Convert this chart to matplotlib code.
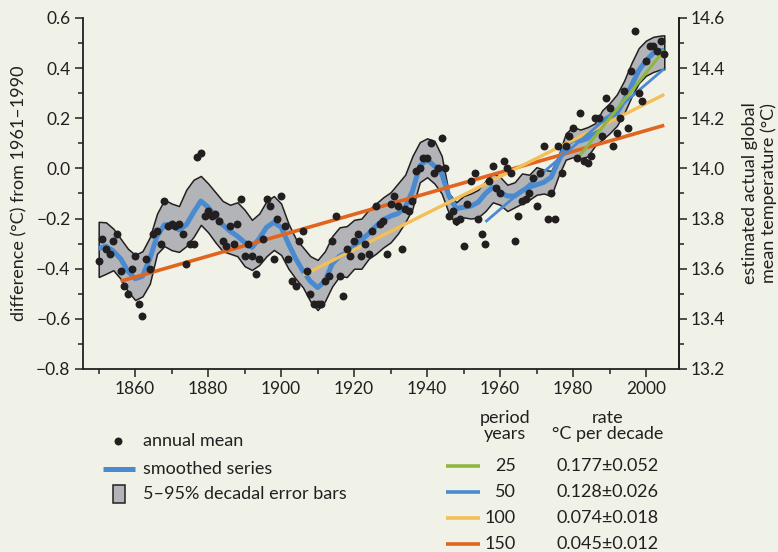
import matplotlib
matplotlib.use('Agg')
import matplotlib.pyplot as plt
from matplotlib.ticker import MultipleLocator, FuncFormatter
from matplotlib.patches import Rectangle

plt.rcParams['font.family'] = ['Lato', 'DejaVu Sans']

# annual means, 1850-2005 (difference from 1961-1990, degC)
years = list(range(1850, 2006))
annual = [
    -0.37, -0.28, -0.32, -0.34, -0.29, -0.26, -0.41, -0.47, -0.50, -0.40,   # 1850s
    -0.35, -0.54, -0.59, -0.36, -0.40, -0.26, -0.25, -0.30, -0.13, -0.23,   # 1860s
    -0.22, -0.23, -0.22, -0.26, -0.38, -0.30, -0.30, 0.045, 0.06, -0.19,    # 1870s
    -0.17, -0.19, -0.18, -0.21, -0.29, -0.31, -0.23, -0.30, -0.22, -0.12,   # 1880s
    -0.35, -0.30, -0.35, -0.42, -0.36, -0.28, -0.12, -0.15, -0.36, -0.20,   # 1890s
    -0.11, -0.23, -0.36, -0.45, -0.47, -0.29, -0.25, -0.41, -0.50, -0.54,   # 1900s
    -0.54, -0.54, -0.45, -0.43, -0.29, -0.19, -0.43, -0.51, -0.32, -0.35,   # 1910s
    -0.29, -0.26, -0.35, -0.30, -0.34, -0.25, -0.15, -0.22, -0.21, -0.34,   # 1920s
    -0.14, -0.11, -0.15, -0.32, -0.16, -0.17, -0.13, -0.01, 0.00, 0.04,     # 1930s
    0.04, 0.10, -0.02, 0.00, 0.12, 0.00, -0.19, -0.17, -0.21, -0.20,        # 1940s
    -0.31, -0.14, -0.05, -0.02, -0.20, -0.26, -0.30, -0.05, 0.01, -0.08,    # 1950s
    -0.10, 0.03, 0.00, -0.02, -0.29, -0.19, -0.13, -0.12, -0.10, -0.04,     # 1960s
    -0.15, -0.02, 0.09, -0.20, -0.10, -0.20, 0.09, -0.02, 0.09, 0.13,       # 1970s
    0.16, 0.04, 0.22, 0.03, 0.02, 0.05, 0.20, 0.20, 0.13, 0.28,             # 1980s
    0.24, 0.09, 0.14, 0.20, 0.31, 0.16, 0.39, 0.55, 0.30, 0.27,             # 1990s
    0.43, 0.49, 0.49, 0.47, 0.51, 0.455,                                    # 2000s
]

# smoothed series and 5-95% band, read every two years
smooth_years = list(range(1850, 2005, 2)) + [2005]
smooth = [
    -0.32, -0.31, -0.33, -0.36, -0.41, -0.44, -0.43, -0.36, -0.27, -0.225,
    -0.225, -0.245, -0.225, -0.175, -0.13, -0.155, -0.19, -0.225, -0.25, -0.27,
    -0.295, -0.315, -0.28, -0.235, -0.215, -0.235, -0.30, -0.36, -0.41, -0.45,
    -0.475, -0.45, -0.38, -0.35, -0.335, -0.31, -0.285, -0.26, -0.23, -0.205,
    -0.19, -0.18, -0.155, -0.09, 0.01, 0.035, 0.01, -0.02, -0.11, -0.16,
    -0.155, -0.15, -0.135, -0.10, -0.075, -0.095, -0.11, -0.11, -0.09, -0.075,
    -0.065, -0.055, -0.035, 0.03, 0.09, 0.115, 0.11, 0.12, 0.15, 0.19,
    0.205, 0.22, 0.27, 0.33, 0.39, 0.43, 0.46, 0.47, 0.47,
]
band_hi = [
    -0.213, -0.215, -0.24, -0.28, -0.32, -0.345, -0.33, -0.275, -0.18, -0.125,
    -0.14, -0.15, -0.085, -0.045, -0.03, -0.06, -0.095, -0.13, -0.145, -0.135,
    -0.165, -0.205, -0.18, -0.13, -0.11, -0.14, -0.22, -0.28, -0.315, -0.35,
    -0.365, -0.33, -0.27, -0.235, -0.23, -0.205, -0.20, -0.165, -0.14, -0.115,
    -0.095, -0.06, -0.025, 0.05, 0.105, 0.12, 0.11, 0.05, -0.10, -0.135,
    -0.11, -0.10, -0.085, -0.05, -0.02, -0.034, -0.065, -0.055, -0.02, -0.025,
    0.005, -0.005, -0.01, 0.05, 0.14, 0.165, 0.155, 0.165, 0.18, 0.232,
    0.26, 0.295, 0.35, 0.42, 0.48, 0.51, 0.525, 0.53, 0.531,
]
band_lo = [
    -0.433, -0.42, -0.406, -0.44, -0.49, -0.525, -0.51, -0.46, -0.34, -0.31,
    -0.326, -0.333, -0.31, -0.273, -0.225, -0.255, -0.295, -0.33, -0.34, -0.35,
    -0.39, -0.405, -0.385, -0.35, -0.325, -0.345, -0.40, -0.44, -0.475, -0.53,
    -0.565, -0.53, -0.47, -0.43, -0.433, -0.40, -0.40, -0.36, -0.34, -0.315,
    -0.295, -0.26, -0.215, -0.16, -0.055, -0.035, -0.06, -0.10, -0.18, -0.225,
    -0.195, -0.20, -0.195, -0.17, -0.135, -0.145, -0.17, -0.155, -0.14, -0.125,
    -0.105, -0.10, -0.11, -0.03, 0.035, 0.045, 0.04, 0.048, 0.09, 0.115,
    0.14, 0.17, 0.22, 0.285, 0.34, 0.37, 0.385, 0.395, 0.395,
]

# linear trends ending 2005
periods = [25, 50, 100, 150]
rates = ['0.177±0.052', '0.128±0.026', '0.074±0.018', '0.045±0.012']
trend_start = [0.036, -0.213, -0.426, -0.45]
trend_end = [0.472, 0.398, 0.295, 0.172]
trend_colors = ['#8DB73F', '#4A8AD0', '#F5BE57', '#E2651F']
trend_widths = [2.2, 2.0, 2.4, 2.6]

bg = '#F1F2E7'
ink = '#231F20'
blue = '#4A8AD0'
grey = '#B2B4B7'

fig = plt.figure(figsize=(7.78, 5.52), dpi=100, facecolor=bg)
ax = fig.add_axes([83 / 778, 1 - 369 / 552, 595.5 / 778, 351 / 552])
ax.set_facecolor(bg)

ax.fill_between(smooth_years, band_lo, band_hi, facecolor=grey, edgecolor=ink, lw=1.1,
                joinstyle='round', zorder=2)
ax.plot(smooth_years, smooth, color=blue, lw=3.6, solid_capstyle='butt',
        solid_joinstyle='round', zorder=3)
# draw longest period first so short ones sit on top
for p, s, e, c, w in reversed(list(zip(periods, trend_start, trend_end, trend_colors, trend_widths))):
    ax.plot([2005 - p + 1, 2005], [s, e], color=c, lw=w, solid_capstyle='butt', zorder=4)
ax.plot(years, annual, 'o', color=ink, ms=5.7, mec='none', zorder=5)

ax.set_xlim(1845.7, 2008.9)
ax.set_ylim(-0.8, 0.6)
ax.xaxis.set_major_locator(MultipleLocator(20))
ax.xaxis.set_minor_locator(MultipleLocator(10))
ax.yaxis.set_major_locator(MultipleLocator(0.2))
ax.yaxis.set_minor_locator(MultipleLocator(0.1))
ax.yaxis.set_major_formatter(FuncFormatter(lambda v, _: f'{v:.1f}'.replace('-', '\u2212')))
ax.set_xticks(range(1860, 2001, 20))

for s in ['left', 'bottom', 'right']:
    ax.spines[s].set_color(ink)
    ax.spines[s].set_linewidth(1.3)
ax.spines['top'].set_visible(False)
ax.tick_params(which='major', length=6, width=1.1, color=ink, labelsize=12.5, labelcolor=ink, pad=3)
ax.tick_params(which='minor', length=3.5, width=1.1, color=ink)
ax.set_ylabel('difference (°C) from 1961–1990', fontsize=13, color=ink, labelpad=6)

ax2 = ax.twinx()
ax2.set_ylim(13.2, 14.6)
ax2.yaxis.set_major_locator(MultipleLocator(0.2))
ax2.yaxis.set_minor_locator(MultipleLocator(0.1))
ax2.yaxis.set_major_formatter(FuncFormatter(lambda v, _: f'{v:.1f}'))
for s in ['left', 'bottom', 'top']:
    ax2.spines[s].set_visible(False)
ax2.spines['right'].set_color(ink)
ax2.spines['right'].set_linewidth(1.3)
ax2.tick_params(which='major', length=6, width=1.1, color=ink, labelsize=12.5, labelcolor=ink, pad=3)
ax2.tick_params(which='minor', length=3.5, width=1.1, color=ink)
ax2.set_ylabel('estimated actual global\nmean temperature (°C)', fontsize=13, color=ink,
               labelpad=12, linespacing=1.15)

# key below the plot, laid out in pixel coordinates
key = fig.add_axes([0, 0, 1, 1], facecolor='none')
key.set_xlim(0, 778)
key.set_ylim(552, 0)
key.axis('off')
fs = 13
key.plot([118], [441], 'o', color=ink, ms=5.7, mec='none')
key.text(143, 441, 'annual mean', fontsize=fs, color=ink, va='center')
key.plot([103, 135], [469, 469], color=blue, lw=3.6, solid_capstyle='butt')
key.text(143, 469, 'smoothed series', fontsize=fs, color=ink, va='center')
key.add_patch(Rectangle((113, 485), 12, 18, facecolor=grey, edgecolor=ink, lw=1.1))
key.text(143, 494, '5–95% decadal error bars', fontsize=fs, color=ink, va='center')

key.text(505, 426, 'period\nyears', fontsize=fs, color=ink, ha='center', va='center', linespacing=1.0)
key.text(608, 426, 'rate\n°C per decade', fontsize=fs, color=ink, ha='center', va='center', linespacing=1.0)
for i, (p, r, c) in enumerate(zip(periods, rates, trend_colors)):
    y = 466 + i * 26
    key.plot([446, 480], [y, y], color=c, lw=2.6, solid_capstyle='butt')
    key.text(516, y, str(p), fontsize=fs, color=ink, ha='right', va='center')
    key.text(608, y, r, fontsize=fs, color=ink, ha='center', va='center')

fig.savefig('out.png', dpi=100, facecolor=bg)
